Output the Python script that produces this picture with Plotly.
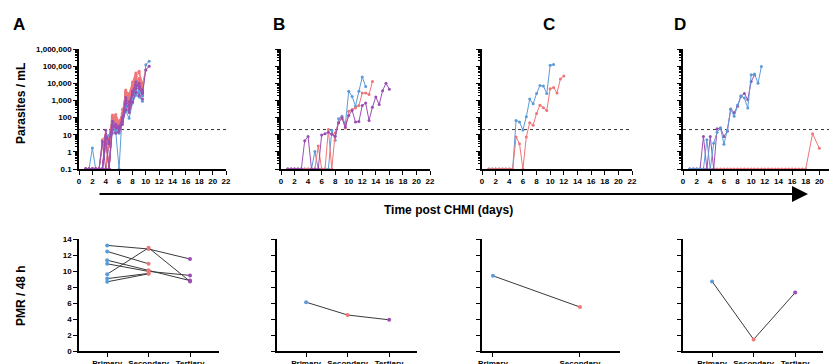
import plotly.graph_objects as go

# ---------------- DATA ----------------
BLUE = "#5b9bd8"
RED = "#f07577"
PURPLE = "#9a4db3"
threshold = 20

days_A = [1, 1.5, 2, 2.5, 3, 3.5, 4, 4.5, 5, 5.5, 6, 6.5, 7, 7.5, 8, 8.5, 9, 9.5, 10, 10.5]
blue_A = [
    [0.1, 0.1, 1.7, 0.1, 0.1, 2.6, 2.6, 3.0, 12, 15, 0.1, 300, 400, 250, 800, 2500, 3000, 1800, 120000, 190000],
    [0.1, 0.1, 0.1, 0.1, 0.1, 0.1, 4, 0.1, 60, 40, 18, 90, 900, 500, 2200, 6000, 4000, 2500, None, None],
    [0.1, 0.1, 0.1, 0.1, 0.1, 0.1, 2, 6, 45, 30, 25, 110, 1500, 700, 3000, 9000, 6000, 3200, None, None],
    [0.1, 0.1, 0.1, 0.1, 0.1, 0.1, 0.1, 5, 80, 55, 30, 150, 2500, 900, 4500, 12000, 9000, 5000, None, None],
    [0.1, 0.1, 0.1, 0.1, 0.1, 3, 6, 2, 35, 20, 12, 60, 500, 300, 1400, 4000, 2800, 2000, None, None],
    [0.1, 0.1, 0.1, 0.1, 0.1, 0.1, 2.5, 9, 100, 50, 45, 130, 3000, 1500, 6000, 15000, 11000, 6500, None, None],
    [0.1, 0.1, 0.1, 0.1, 0.1, 0.1, 0.1, 3, 25, 18, 20, 50, 250, 90, 700, 2000, 1600, 900, None, None],
]
red_A = [
    [0.1, 0.1, 0.1, 0.1, 0.1, 0.1, 8, 0.1, 120, 150, 60, 200, 4000, 2000, 9000, 30000, 20000, 8000, None, None],
    [0.1, 0.1, 0.1, 0.1, 0.1, 5, 10, 3, 90, 100, 40, 150, 3000, 1200, 7000, 25000, 40000, 6000, None, None],
    [0.1, 0.1, 0.1, 0.1, 0.1, 0.1, 4, 0.1, 70, 60, 35, 120, 2000, 900, 5000, 18000, 12000, 4000, None, None],
    [0.1, 0.1, 0.1, 0.1, 0.1, 0.1, 0.1, 6, 140, 110, 50, 180, 3500, 2500, 12000, 40000, 50000, 10000, 60000, None],
    [0.1, 0.1, 0.1, 0.1, 0.1, 2, 7, 0.1, 50, 40, 25, 80, 1500, 600, 3000, 10000, 8000, 3000, None, None],
    [0.1, 0.1, 0.1, 0.1, 0.1, 0.1, 0.1, 4, 100, 80, 30, 100, 2500, 1000, 6000, 20000, 15000, 5000, None, None],
    [0.1, 0.1, 0.1, 0.1, 0.1, 0.1, 10, 0.1, 60, 30, 20, 70, 800, 400, 2500, 8000, 5000, 2500, None, None],
]
purple_A = [
    [0.1, 0.1, 0.1, 0.1, 0.1, 0.1, 18, 3, 40, 30, 25, 60, 1000, 500, 2500, 8000, 5000, 2500, 60000, 100000],
    [0.1, 0.1, 0.1, 0.1, 0.1, 0.1, 6, 0.1, 30, 25, 20, 80, 700, 300, 2000, 5000, 10000, 3000, None, None],
    [0.1, 0.1, 0.1, 0.1, 0.1, 4, 0.1, 0.1, 20, 12, 15, 40, 300, 200, 800, 3000, 2000, 1200, None, None],
    [0.1, 0.1, 0.1, 0.1, 0.1, 0.1, 8, 4, 60, 40, 30, 100, 1500, 800, 3500, 12000, 7000, 4000, None, None],
]

days_B_blue = [1, 1.5, 2, 2.5, 3, 3.5, 4, 4.5, 5, 5.5, 6, 6.5, 7, 7.5, 8, 8.5, 9, 9.5, 10, 10.5, 11, 11.5, 12, 12.5]
blue_B = [0.1, 0.1, 0.1, 0.1, 0.1, 0.1, 0.1, 0.1, 1.05, 0.1, 0.1, 0.1, 0.1, 18, 4.8, 85, 120, 40, 3400, 1700, 460, 3400, 23000, 6600]
days_B_red = [1, 1.5, 2, 2.5, 3, 3.5, 4, 4.5, 5, 5.5, 6, 6.5, 7, 7.5, 8, 8.5, 9, 9.5, 10, 10.5, 11, 11.5, 12, 12.5, 13, 13.5]
red_B = [0.1, 0.1, 0.1, 0.1, 0.1, 0.1, 0.1, 0.1, 0.1, 2.2, 0.1, 0.1, 20, 0.1, 13, 50, 98, 25, 235, 295, 365, 500, 2700, 2700, 2200, 12600]
days_B_purple = [1, 1.5, 2, 2.5, 3, 3.5, 4, 4.5, 5, 5.5, 6, 6.5, 7, 7.5, 8, 8.5, 9, 9.5, 10, 10.5, 11, 11.5, 12, 12.5, 13, 13.5, 14, 14.5, 15, 15.5, 16]
purple_B = [0.1, 0.1, 0.1, 0.1, 0.1, 4.4, 7.8, 0.1, 0.1, 0.1, 9.6, 11.5, 14, 10.5, 8, 50, 93, 28, 130, 260, 55, 59, 500, 710, 68, 400, 1600, 570, 3700, 10000, 4500]

days_C_blue = [1, 1.5, 2, 2.5, 3, 3.5, 4, 4.5, 5, 5.5, 6, 6.5, 7, 7.5, 8, 8.5, 9, 9.5, 10, 10.5]
blue_C = [0.1, 0.1, 0.1, 0.1, 0.1, 0.1, 0.1, 0.1, 68, 55, 19, 110, 1200, 630, 2500, 7400, 6900, 2500, 112000, 123000]
days_C_red = [1, 1.5, 2, 2.5, 3, 3.5, 4, 4.5, 5, 5.5, 6, 6.5, 7, 7.5, 8, 8.5, 9, 9.5, 10, 10.5, 11, 11.5, 12]
red_C = [0.1, 0.1, 0.1, 0.1, 0.1, 0.1, 0.1, 0.1, 7.4, 3, 0.1, 7.4, 50, 36, 174, 525, 380, 256, 4800, 5700, 2700, 18000, 27000]

days_D_blue = [1, 1.5, 2, 2.5, 3, 3.5, 4, 4.5, 5, 5.5, 6, 6.5, 7, 7.5, 8, 8.5, 9, 9.5, 10, 10.5, 11, 11.5]
blue_D = [0.1, 0.1, 0.1, 0.1, 0.1, 5, 0.1, 3.2, 14, 25, 2.8, 19, 300, 120, 550, 1900, 1400, 360, 31000, 35000, 10000, 96000]
days_D_purple = [1, 1.5, 2, 2.5, 3, 3.5, 4, 4.5, 5, 5.5, 6, 6.5, 7, 7.5, 8, 8.5, 9, 9.5, 10, 10.5]
purple_D = [0.1, 0.1, 0.1, 0.1, 7.8, 0.1, 7.8, 0.1, 22, 25, 7.8, 16, 320, 190, 460, 1700, 2500, 1100, 12600, 31000]
days_D_red = [1, 1.5, 2, 2.5, 3, 3.5, 4, 4.5, 5, 5.5, 6, 6.5, 7, 7.5, 8, 8.5, 9, 9.5, 10, 10.5, 11, 11.5,
              12, 12.5, 13, 13.5, 14, 14.5, 15, 15.5, 16, 16.5, 17, 17.5, 18, 19, 20]
red_D = [0.1] * 35 + [11.5, 1.6]

categories = ["Primary", "Secondary", "Tertiary"]
pmr_A = [
    [13.2, 12.75, 11.5],
    [12.45, 10.9, None],
    [11.35, 10.1, 8.8],
    [10.9, 9.95, 9.45],
    [9.6, 12.9, 8.7],
    [9.05, 9.7, None],
    [8.65, 9.65, None],
]
pmr_B = [6.1, 4.5, 3.9]
pmr_C = [9.4, 5.5]
pmr_D = [8.7, 1.45, 7.3]

y_tickvals = [0.1, 1, 10, 100, 1000, 10000, 100000, 1000000]
y_ticktext = ["0.1", "1", "10", "100", "1,000", "10,000", "100,000", "1,000,000"]
x_ticks = [0, 2, 4, 6, 8, 10, 12, 14, 16, 18, 20, 22]
pmr_ticks = [0, 2, 4, 6, 8, 10, 12, 14]

# ---------------- FIGURE ----------------
# the page body has an 8px margin, so the figure is drawn 8px in from the window's corner
OFF = 8
WIN_W, WIN_H = 837, 364
W, H = WIN_W - OFF, WIN_H - OFF
FONT = "Arial, Liberation Sans, sans-serif"
fig = go.Figure()

def fx(p):
    return (p - OFF) / W

def fy(p):
    return 1 - (p - OFF) / H

def px_x(a, b):
    return [fx(a), fx(b)]

def px_y(top, bottom):
    return [fy(bottom), fy(top)]

top_dom = [px_x(79, 226), px_x(281, 430), px_x(482, 632), px_x(683, 833)]
bot_dom = [px_x(79, 219), px_x(277, 417), px_x(482, 620), px_x(683, 823)]
bot_range = [[-0.68, 2.7], [-0.7, 2.67], [-0.126, 1.46], [-0.7, 2.67]]
top_y = px_y(49, 169)
bot_y = px_y(239, 351)

minor_vals = [m * 10 ** e for e in range(-1, 6) for m in range(2, 10)]

axis_common = dict(showline=True, linecolor="black", linewidth=1.5, ticks="outside",
                   tickwidth=1.3, tickcolor="black", ticklen=4, showgrid=False, zeroline=False,
                   automargin=False,
                   tickfont=dict(family=FONT, size=8, color="black", weight="bold"))

layout = {}
for i in range(4):
    xt, yt = f"xaxis{2*i+1 if i else ''}", f"yaxis{2*i+1 if i else ''}"
    xb, yb = f"xaxis{2*i+2}", f"yaxis{2*i+2}"
    ta = f"y{2*i+1 if i else ''}"
    tx = f"x{2*i+1 if i else ''}"
    layout[xt] = dict(axis_common, domain=top_dom[i], range=[0, 22], tickmode="array",
                      tickvals=x_ticks, anchor=ta)
    layout[yt] = dict(axis_common, domain=top_y, type="log", range=[-1, 6], tickmode="array",
                      tickvals=y_tickvals, ticktext=y_ticktext, showticklabels=(i == 0),
                      anchor=tx, minor=dict(ticks="outside", ticklen=2, tickcolor="black",
                                            tickwidth=1, tickmode="array", tickvals=minor_vals))
    ncat = 2 if i == 2 else 3
    layout[xb] = dict(axis_common, domain=bot_dom[i], range=bot_range[i], tickmode="array",
                      tickvals=list(range(ncat)), ticktext=categories[:ncat], anchor=f"y{2*i+2}")
    layout[yb] = dict(axis_common, domain=bot_y, range=[0, 14], tickmode="array",
                      tickvals=pmr_ticks, showticklabels=(i == 0), anchor=f"x{2*i+2}")

def line(xs, ys, color, xa, ya):
    fig.add_trace(go.Scatter(x=xs, y=ys, mode="lines+markers", line=dict(color=color, width=1),
                             marker=dict(color=color, size=3), xaxis=xa, yaxis=ya,
                             showlegend=False, hoverinfo="skip"))

# threshold lines
for i in range(4):
    xa = f"x{2*i+1 if i else ''}"
    ya = f"y{2*i+1 if i else ''}"
    fig.add_trace(go.Scatter(x=[0, 22], y=[threshold, threshold], mode="lines",
                             line=dict(color="#333333", width=1, dash="dot"),
                             xaxis=xa, yaxis=ya, showlegend=False, hoverinfo="skip"))

for s in blue_A:
    line(days_A, s, BLUE, "x", "y")
for s in red_A:
    line(days_A, s, RED, "x", "y")
for s in purple_A:
    line(days_A, s, PURPLE, "x", "y")

line(days_B_blue, blue_B, BLUE, "x3", "y3")
line(days_B_red, red_B, RED, "x3", "y3")
line(days_B_purple, purple_B, PURPLE, "x3", "y3")

line(days_C_blue, blue_C, BLUE, "x5", "y5")
line(days_C_red, red_C, RED, "x5", "y5")

line(days_D_red, red_D, RED, "x7", "y7")
line(days_D_purple, purple_D, PURPLE, "x7", "y7")
line(days_D_blue, blue_D, BLUE, "x7", "y7")

cat_colors = [BLUE, RED, PURPLE]

def pmr(vals, xa, ya):
    xs = list(range(len(vals)))
    fig.add_trace(go.Scatter(x=xs, y=vals, mode="lines+markers",
                             line=dict(color="#3a3a3a", width=1),
                             marker=dict(color=cat_colors[:len(vals)], size=4),
                             xaxis=xa, yaxis=ya, showlegend=False, hoverinfo="skip"))

for s in pmr_A:
    pmr(s, "x2", "y2")
pmr(pmr_B, "x4", "y4")
pmr(pmr_C, "x6", "y6")
pmr(pmr_D, "x8", "y8")

annotations = []
for letter, xp in zip("ABCD", [19, 279, 549, 680]):
    annotations.append(dict(text=f"<b>{letter}</b>", x=fx(xp), y=fy(25), xref="paper", yref="paper",
                            showarrow=False, font=dict(family=FONT, size=17, color="black"),
                            xanchor="center", yanchor="middle"))
annotations.append(dict(text="<b>Parasites / mL</b>", x=fx(21), y=fy(104), xref="paper", yref="paper",
                        showarrow=False, textangle=-90, font=dict(family=FONT, size=12, color="black"),
                        xanchor="center", yanchor="middle"))
annotations.append(dict(text="<b>PMR / 48 h</b>", x=fx(21), y=fy(296), xref="paper", yref="paper",
                        showarrow=False, textangle=-90, font=dict(family=FONT, size=12, color="black"),
                        xanchor="center", yanchor="middle"))
annotations.append(dict(text="<b>Time post CHMI (days)</b>", x=fx(448), y=fy(210), xref="paper",
                        yref="paper", showarrow=False, font=dict(family=FONT, size=12, color="black"),
                        xanchor="center", yanchor="middle"))
annotations.append(dict(text="", x=fx(808), y=fy(194), ax=-(808 - 98), ay=0, xref="paper",
                        yref="paper", axref="pixel", ayref="pixel", showarrow=True, arrowhead=2,
                        arrowwidth=2, arrowsize=1.6, arrowcolor="black", standoff=0))

fig.update_layout(width=W, height=H, margin=dict(l=0, r=0, t=0, b=0, autoexpand=False),
                  plot_bgcolor="white", paper_bgcolor="white", annotations=annotations, **layout)

fig.write_html("out.html")
